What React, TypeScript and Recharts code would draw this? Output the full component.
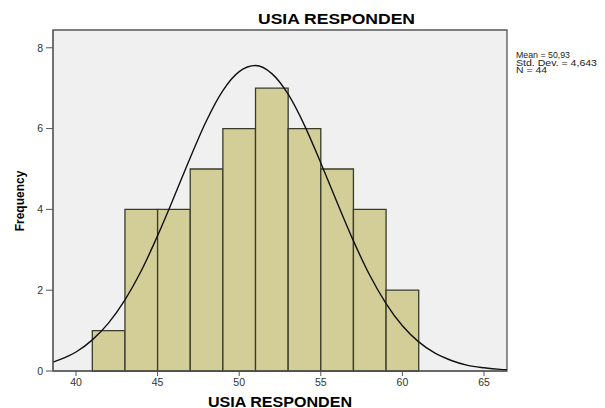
import React from "react"
import {
  ComposedChart,
  Line,
  XAxis,
  YAxis,
  CartesianGrid,
  ReferenceArea,
} from "recharts"

// histogram bins (age, 2-year width)
const binStarts = [41, 43, 45, 47, 49, 51, 53, 55, 57, 59]
const binWidth = 2
const counts = [1, 4, 4, 5, 6, 7, 6, 5, 4, 2]

// fitted normal curve
const curveX = [
  38.6, 39, 40, 41, 42, 43, 44, 45, 46, 47, 48, 49, 50, 51, 52, 53, 54, 55, 56, 57, 58, 59, 60,
  61, 62, 63, 64, 65, 66, 66.4,
]
const curveY = [
  0.22, 0.28, 0.47, 0.77, 1.19, 1.76, 2.48, 3.35, 4.3, 5.28, 6.2, 6.94, 7.41, 7.56, 7.36, 6.85,
  6.08, 5.15, 4.17, 3.22, 2.37, 1.67, 1.12, 0.72, 0.44, 0.26, 0.14, 0.08, 0.04, 0.03,
]

const xTicks = [40, 45, 50, 55, 60, 65]
const yTicks = [0, 2, 4, 6, 8]
const xDomain = [38.59, 66.41]
const yDomain = [0, 8.44]

const title = "USIA RESPONDEN"
const xLabel = "USIA RESPONDEN"
const yLabel = "Frequency"
const stats = ["Mean = 50,93", "Std. Dev. = 4,643", "N = 44"]
const statWidths = [54, 81, 31]

const FONT = "Arial, 'Liberation Sans', sans-serif"
const AXIS = "#555555"
const BAR_FILL = "#d3ce98"
const BAR_EDGE = "#3b3b2c"

const curveData = curveX.map((x, i) => ({ x, y: curveY[i] }))

export default function App() {
  return (
    <div style={{ position: "absolute", left: 0, top: 0, width: 605, height: 408, background: "#fff" }}>
      <ComposedChart
        width={605}
        height={408}
        data={curveData}
        margin={{ top: 30, right: 98, left: 0, bottom: 0 }}
      >
        <CartesianGrid fill="#f0f0f0" horizontal={false} vertical={false} />
        <XAxis
          type="number"
          dataKey="x"
          domain={xDomain}
          allowDataOverflow
          ticks={xTicks}
          height={37}
          tickSize={5}
          tickMargin={3}
          stroke={AXIS}
          tick={{ fill: "#333", fontFamily: FONT, fontSize: 10.5 }}
        />
        <YAxis
          type="number"
          domain={yDomain}
          allowDataOverflow
          ticks={yTicks}
          width={53}
          tickSize={7}
          tickMargin={3}
          stroke={AXIS}
          tick={{ fill: "#333", fontFamily: FONT, fontSize: 10.5 }}
        />
        {/* plot frame */}
        <ReferenceArea
          x1={xDomain[0]}
          x2={xDomain[1]}
          y1={yDomain[0]}
          y2={yDomain[1]}
          fill="none"
          stroke={AXIS}
          strokeWidth={1.3}
        />
        {binStarts.map((start, i) => (
          <ReferenceArea
            key={start}
            x1={start}
            x2={start + binWidth}
            y1={0}
            y2={counts[i]}
            fill={BAR_FILL}
            fillOpacity={1}
            stroke={BAR_EDGE}
            strokeWidth={1.3}
          />
        ))}
        <Line
          type="monotone"
          dataKey="y"
          stroke="#111"
          strokeWidth={1.4}
          dot={false}
          activeDot={false}
          isAnimationActive={false}
        />
      </ComposedChart>
      <svg
        width={605}
        height={408}
        style={{ position: "absolute", left: 0, top: 0, pointerEvents: "none" }}
        fontFamily={FONT}
      >
        <text x={336.5} y={24} textAnchor="middle" fontSize={14} fontWeight="bold" textLength={157} lengthAdjust="spacingAndGlyphs">
          {title}
        </text>
        <text x={280} y={406.5} textAnchor="middle" fontSize={14.5} fontWeight="bold" textLength={144} lengthAdjust="spacingAndGlyphs">
          {xLabel}
        </text>
        <text
          x={0}
          y={0}
          transform="translate(24 201) rotate(-90)"
          textAnchor="middle"
          fontSize={12}
          fontWeight="bold"
        >
          {yLabel}
        </text>
        {stats.map((s, i) => (
          <text
            key={s}
            x={516}
            y={58 + i * 7.6}
            fontSize={8.6}
            fill="#222"
            textLength={statWidths[i]}
            lengthAdjust="spacingAndGlyphs"
          >
            {s}
          </text>
        ))}
      </svg>
    </div>
  )
}
